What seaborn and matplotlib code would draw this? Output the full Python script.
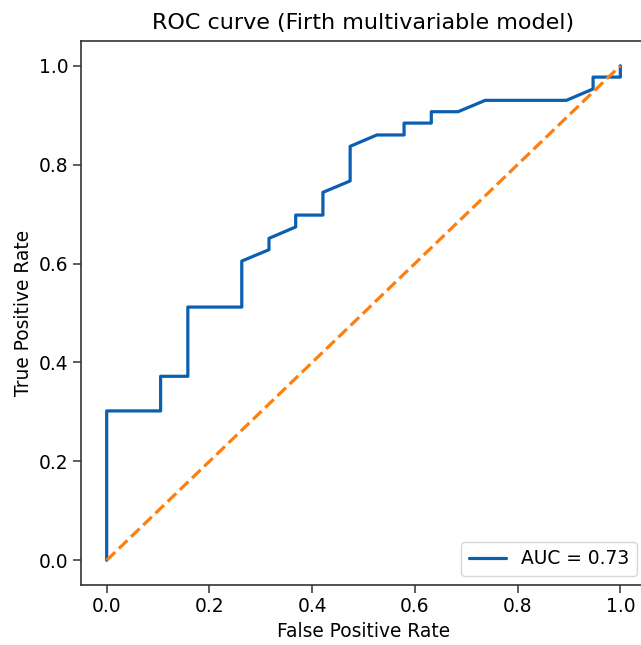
import matplotlib
matplotlib.use("Agg")
import matplotlib.pyplot as plt
import seaborn as sns
import pandas as pd

# ROC points (19 negatives, 43 positives)
fpr = [0.0, 0.0, 0.105, 0.105, 0.158, 0.158, 0.263, 0.263, 0.316, 0.316,
       0.368, 0.368, 0.421, 0.421, 0.474, 0.474, 0.526, 0.579, 0.579, 0.632,
       0.632, 0.684, 0.737, 0.895, 0.947, 0.947, 1.0, 1.0]
tpr = [0.0, 0.302, 0.302, 0.372, 0.372, 0.512, 0.512, 0.605, 0.628, 0.651,
       0.674, 0.698, 0.698, 0.744, 0.767, 0.837, 0.860, 0.860, 0.884, 0.884,
       0.907, 0.907, 0.930, 0.930, 0.953, 0.977, 0.977, 1.0]
chance = [0.0, 1.0]
auc_label = "AUC = 0.73"

roc = pd.DataFrame({"fpr": fpr, "tpr": tpr})
diag = pd.DataFrame({"x": chance, "y": chance})

sns.set_style("ticks", {"text.color": "black", "axes.labelcolor": "black",
                        "xtick.color": "black", "ytick.color": "black"})
plt.rcParams["font.family"] = ["DejaVu Sans"]

fig = plt.figure(figsize=(6.41, 6.45), dpi=100)
ax = fig.add_axes([81 / 641, 1 - 585 / 645, 565 / 641, 544 / 645])

sns.lineplot(data=roc, x="fpr", y="tpr", sort=False, estimator=None,
             color="#0b5fb0", lw=2.3, label=auc_label, ax=ax)
sns.lineplot(data=diag, x="x", y="y", color="#ff7f0e", lw=2.3,
             linestyle="--", ax=ax)

ax.set_xlim(-0.05, 1.05)
ax.set_ylim(-0.05, 1.05)
ax.set_xticks([0.0, 0.2, 0.4, 0.6, 0.8, 1.0])
ax.set_yticks([0.0, 0.2, 0.4, 0.6, 0.8, 1.0])
ax.tick_params(labelsize=13.4, length=5.5, width=1.1, colors="#333333",
               labelcolor="black")
for s in ax.spines.values():
    s.set_color("#333333")
    s.set_linewidth(1.2)

ax.set_xlabel("False Positive Rate", fontsize=13.4)
ax.set_ylabel("True Positive Rate", fontsize=13.4)
ax.set_title("ROC curve (Firth multivariable model)", fontsize=16, pad=9)
ax.legend(loc="lower right", fontsize=13.4, handlelength=2)

fig.savefig("out.png", dpi=100)
